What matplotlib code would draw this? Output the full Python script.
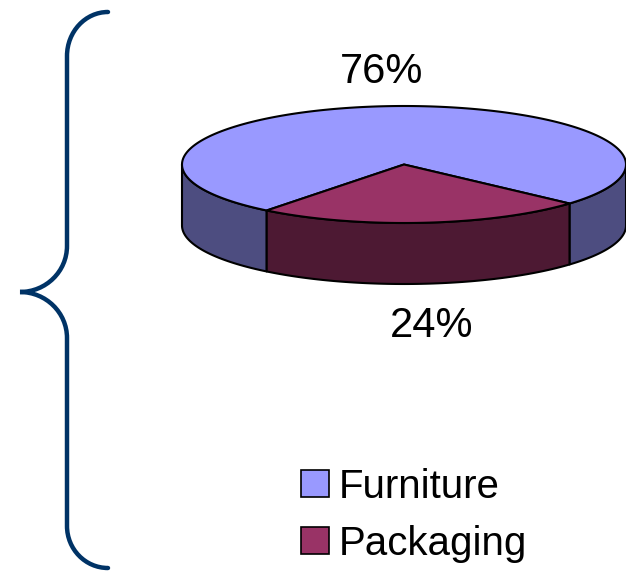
import numpy as np
import matplotlib.pyplot as plt
from matplotlib.patches import Polygon, Rectangle, PathPatch
from matplotlib.path import Path

plt.rcParams['font.family'] = ['Liberation Sans', 'DejaVu Sans']

# data
categories = ['Furniture', 'Packaging']
values = [76, 24]
top_colors = ['#9999FF', '#993366']
side_colors = ['#4D4D80', '#4D1933']

fig = plt.figure(figsize=(6.26, 5.74), dpi=100)
ax = fig.add_axes([0, 0, 1, 1])
ax.set_xlim(0, 626)
ax.set_ylim(574, 0)
ax.axis('off')

# 3d pie geometry (pixel space, y down)
cx, cy = 404, 164.5
rx, ry = 222, 58.5
depth = 61
start = 318.2  # degrees, counter clockwise

def pt(a, dy=0):
    r = np.radians(a)
    return cx + rx * np.cos(r), cy - ry * np.sin(r) + dy

total = float(sum(values))
spans = []
a0 = start
for v in values:
    a1 = a0 + 360.0 * v / total
    spans.append((a0, a1))
    a0 = a1

# sides first (only the front half, angles 180..360)
for (a0, a1), col in zip(spans, side_colors):
    for k in range(-1, 3):
        lo = max(a0, 180 + 360 * k)
        hi = min(a1, 360 + 360 * k)
        if hi <= lo:
            continue
        ang = np.linspace(lo, hi, 80)
        top = [pt(a) for a in ang]
        bot = [pt(a, depth) for a in ang[::-1]]
        ax.add_patch(Polygon(top + bot, closed=True, facecolor=col,
                             edgecolor='black', lw=1.5, joinstyle='round'))

# top faces
for (a0, a1), col in zip(spans, top_colors):
    ang = np.linspace(a0, a1, 200)
    verts = [(cx, cy)] + [pt(a) for a in ang]
    ax.add_patch(Polygon(verts, closed=True, facecolor=col,
                         edgecolor='black', lw=1.5, joinstyle='round'))

# percent labels
for (a0, a1), v in zip(spans, values):
    mid = (a0 + a1) / 2
    if np.sin(np.radians(mid)) > 0:
        x = cx + rx * 1.15 * np.cos(np.radians(mid))
        y = pt(mid)[1] - 34
    else:
        x = cx + rx * 1.45 * np.cos(np.radians(mid))
        y = pt(mid)[1] + depth + 42
    ax.text(x, y, '%d%%' % round(100 * v / total), fontsize=30,
            ha='center', va='center', color='black')

# legend
for i, (name, col) in enumerate(zip(categories, top_colors)):
    y0 = 470 + i * 57
    ax.add_patch(Rectangle((301, y0), 28, 27, facecolor=col,
                           edgecolor='black', lw=1.2))
    ax.text(339, y0 + 13, name, fontsize=29, ha='left', va='center_baseline')

# brace on the left
k = 0.5523
codes = [Path.MOVETO]
verts = [(108, 12)]
def arc(p0, p1, c):
    # quarter arc from p0 to p1 around corner c
    verts.extend([(p0[0] + k * (c[0] - p0[0]), p0[1] + k * (c[1] - p0[1])),
                  (p1[0] + k * (c[0] - p1[0]), p1[1] + k * (c[1] - p1[1])),
                  p1])
    codes.extend([Path.CURVE4] * 3)

arc((108, 12), (67, 56), (67, 12))
verts.append((67, 246)); codes.append(Path.LINETO)
arc((67, 246), (20, 292), (67, 292))
arc((20, 292), (67, 338), (67, 292))
verts.append((67, 526)); codes.append(Path.LINETO)
arc((67, 526), (108, 568), (67, 568))
ax.add_patch(PathPatch(Path(verts, codes), facecolor='none',
                       edgecolor='#003366', lw=3.2, capstyle='round'))

fig.savefig('out.png', dpi=100)
